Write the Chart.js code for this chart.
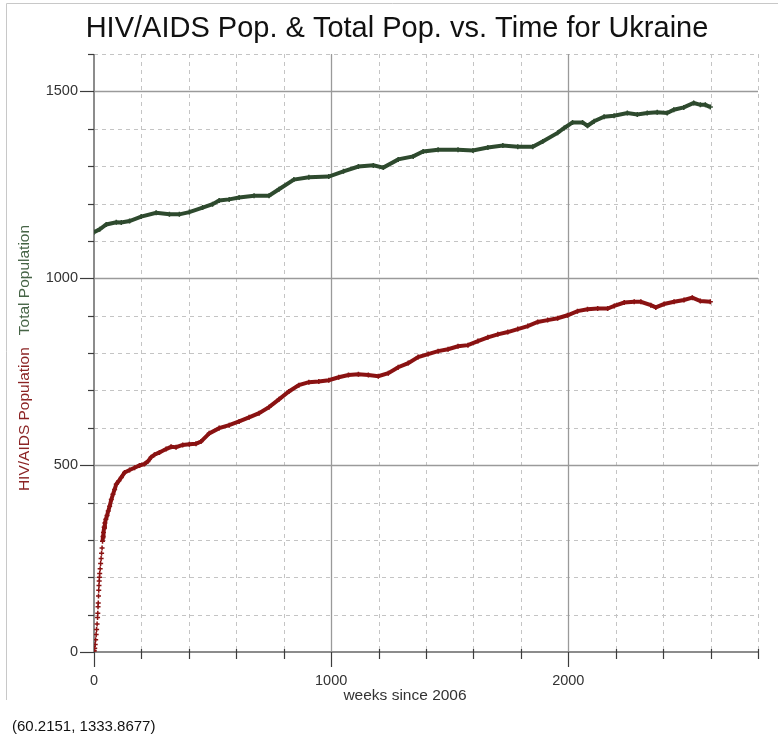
<!DOCTYPE html>
<html>
<head>
<meta charset="utf-8">
<script src="https://cdn.jsdelivr.net/npm/chart.js@4.4.1/dist/chart.umd.min.js"></script>
<style>
html,body{margin:0;padding:0;background:#fff;}
#wrap{position:relative;width:778px;height:740px;}
</style>
</head>
<body>
<div id="wrap"><canvas id="c" width="778" height="740"></canvas></div>
<script>
// ---- text ----
const chartTitle = 'HIV/AIDS Pop. & Total Pop. vs. Time for Ukraine';
const xAxisTitle = 'weeks since 2006';
const hivLabel = 'HIV/AIDS Population';
const totalLabel = 'Total Population';
const cursorText = '(60.2151, 1333.8677)';

// ---- tick labels ----
const xTickLabels = [0, 1000, 2000];
const yTickLabels = [0, 500, 1000, 1500];

// ---- HIV/AIDS population (weeks, people) ----
const hivWeeks = [0, 1, 3, 5, 7, 9, 11, 13, 15, 16, 17, 18, 19, 20, 21, 22, 23, 24, 26, 28, 30, 32, 34, 36, 38, 40, 43, 46,
  50, 55, 60, 66, 73, 80, 87, 94, 105, 115, 129, 150, 171, 192, 213, 227, 241, 255, 276, 304, 325, 346, 374, 402, 430, 451,
  486, 528, 570, 612, 654, 696, 738, 780, 822, 864, 906, 948, 990, 1032, 1073, 1115, 1157, 1199, 1241, 1283, 1325, 1367,
  1409, 1451, 1493, 1535, 1577, 1619, 1661, 1703, 1745, 1787, 1829, 1871, 1913, 1955, 1997, 2039, 2081, 2124, 2166, 2194,
  2236, 2278, 2306, 2348, 2369, 2404, 2446, 2488, 2523, 2557, 2599];
const hivValues = [0, 4, 10, 20, 33, 47, 60, 75, 92, 104, 121, 131, 150, 165, 178, 190, 200, 210, 223, 237, 250, 264, 278, 296,
  309, 320, 334, 345, 355, 365, 377, 390, 408, 422, 435, 449, 458, 467, 480, 487, 493, 499, 503, 510, 521, 528, 534, 543, 549,
  548, 554, 556, 557, 563, 585, 599, 607, 617, 628, 639, 655, 676, 697, 714, 722, 724, 727, 735, 741, 743, 741, 738, 746, 762,
  773, 789, 797, 805, 810, 818, 821, 832, 842, 850, 856, 864, 872, 883, 888, 893, 901, 912, 917, 919, 919, 926,
  935, 937, 937, 928, 922, 931, 937, 942, 948, 939, 937];

// ---- Total population (weeks, people) ----
const totalWeeks = [0, 24, 52, 94, 115, 150, 199, 262, 318, 360, 402, 458, 500, 528, 570, 612, 675, 738, 780, 843, 906, 990,
  1052, 1115, 1178, 1220, 1283, 1346, 1388, 1451, 1535, 1598, 1661, 1724, 1787, 1850, 1892, 1955, 1983, 2018, 2060, 2081,
  2109, 2151, 2193, 2249, 2291, 2333, 2375, 2417, 2445, 2487, 2529, 2557, 2578, 2599];
const totalValues = [1123, 1131, 1144, 1150, 1149, 1153, 1165, 1175, 1171, 1171, 1177, 1189, 1198, 1208, 1211, 1216, 1221,
  1221, 1238, 1264, 1270, 1272, 1286, 1299, 1302, 1296, 1318, 1326, 1339, 1344, 1344, 1342, 1350, 1355, 1352, 1352, 1366,
  1389, 1402, 1417, 1417, 1408, 1420, 1432, 1435, 1442, 1438, 1442, 1444, 1442, 1451, 1457, 1469, 1464, 1464, 1458];

const FONT = '"Liberation Sans", Arial, sans-serif';
const RED = '#8a1212';
const GREEN = '#2e4a2e';

const toPoints = (xs, ys) => xs.map((x, i) => ({x, y: ys[i]}));

const gridPlugin = {
  id: 'customGrid',
  beforeDatasetsDraw(chart) {
    const {ctx, chartArea: a, scales: {x, y}} = chart;
    const x0 = x.getPixelForValue(0), y0 = y.getPixelForValue(0);
    ctx.save();
    // minor dashed grid
    ctx.strokeStyle = '#c4c4c4';
    ctx.lineWidth = 1;
    ctx.setLineDash([4, 4]);
    x.ticks.forEach(t => {
      if (t.value % 1000 === 0) return;
      const p = Math.round(x.getPixelForValue(t.value)) + 0.5;
      ctx.beginPath(); ctx.moveTo(p, a.top); ctx.lineTo(p, a.bottom); ctx.stroke();
    });
    y.ticks.forEach(t => {
      if (t.value % 500 === 0) return;
      const p = Math.round(y.getPixelForValue(t.value)) + 0.5;
      ctx.beginPath(); ctx.moveTo(a.left, p); ctx.lineTo(a.right, p); ctx.stroke();
    });
    ctx.setLineDash([]);
    // major solid grid
    ctx.strokeStyle = '#9a9a9a';
    ctx.lineWidth = 1.3;
    x.ticks.forEach(t => {
      if (t.value % 1000 !== 0 || t.value === 0) return;
      const p = Math.round(x.getPixelForValue(t.value)) + 0.5;
      ctx.beginPath(); ctx.moveTo(p, a.top); ctx.lineTo(p, a.bottom); ctx.stroke();
    });
    y.ticks.forEach(t => {
      if (t.value % 500 !== 0 || t.value === 0) return;
      const p = Math.round(y.getPixelForValue(t.value)) + 0.5;
      ctx.beginPath(); ctx.moveTo(a.left, p); ctx.lineTo(a.right, p); ctx.stroke();
    });
    // axis lines
    ctx.strokeStyle = '#8c8c8c';
    ctx.lineWidth = 2;
    ctx.beginPath(); ctx.moveTo(x0, a.top); ctx.lineTo(x0, y0 + 1); ctx.stroke();
    ctx.beginPath(); ctx.moveTo(x0 - 1, y0); ctx.lineTo(a.right, y0); ctx.stroke();
    // tick marks
    ctx.strokeStyle = '#3c3c3c';
    ctx.lineWidth = 1.2;
    y.ticks.forEach(t => {
      const p = Math.round(y.getPixelForValue(t.value)) + 0.5;
      const len = t.value % 500 === 0 ? 14 : 6;
      ctx.beginPath(); ctx.moveTo(x0 - len, p); ctx.lineTo(x0, p); ctx.stroke();
    });
    x.ticks.forEach(t => {
      const p = Math.round(x.getPixelForValue(t.value)) + 0.5;
      const major = t.value % 1000 === 0;
      ctx.beginPath();
      ctx.moveTo(p, major ? y0 : y0 - 3);
      ctx.lineTo(p, major ? y0 + 15 : y0 + 7);
      ctx.stroke();
    });
    ctx.restore();
  }
};

const textPlugin = {
  id: 'texts',
  beforeDraw(chart) {
    const {ctx} = chart;
    ctx.save();
    ctx.strokeStyle = '#c8c8c8';
    ctx.lineWidth = 1;
    ctx.beginPath();
    ctx.moveTo(6.5, 700); ctx.lineTo(6.5, 3.5); ctx.lineTo(chart.width, 3.5);
    ctx.stroke();
    ctx.restore();
  },
  afterDraw(chart) {
    const {ctx, chartArea: a} = chart;
    ctx.save();
    // title
    ctx.fillStyle = '#111';
    ctx.font = '29px ' + FONT;
    ctx.textAlign = 'center';
    ctx.textBaseline = 'middle';
    ctx.fillText(chartTitle, 397, 29);
    // x axis title
    ctx.fillStyle = '#333';
    ctx.font = '15.5px ' + FONT;
    ctx.fillText(xAxisTitle, 405, a.bottom + 44);
    // cursor readout
    ctx.fillStyle = '#111';
    ctx.font = '15px ' + FONT;
    ctx.textAlign = 'left';
    ctx.fillText(cursorText, 12, 727);
    // rotated y titles
    ctx.font = '15.5px ' + FONT;
    const wH = ctx.measureText(hivLabel).width;
    const wT = ctx.measureText(totalLabel).width;
    const gap = 12;
    const total = wH + gap + wT;
    const cy = (a.top + a.bottom) / 2 + 5;
    ctx.translate(25, cy);
    ctx.rotate(-Math.PI / 2);
    ctx.textAlign = 'left';
    ctx.fillStyle = '#8b2323';
    ctx.fillText(hivLabel, -total / 2, 0);
    ctx.fillStyle = '#466446';
    ctx.fillText(totalLabel, -total / 2 + wH + gap, 0);
    ctx.restore();
  }
};

new Chart(document.getElementById('c'), {
  type: 'line',
  data: {
    datasets: [
      {
        label: totalLabel,
        data: toPoints(totalWeeks, totalValues),
        borderColor: GREEN,
        backgroundColor: GREEN,
        borderWidth: 4,
        pointStyle: 'cross',
        pointRadius: 2.5,
        pointBorderWidth: 1.5,
        tension: 0,
        fill: false
      },
      {
        label: hivLabel,
        data: toPoints(hivWeeks, hivValues),
        borderColor: RED,
        backgroundColor: RED,
        borderWidth: 4,
        pointStyle: 'cross',
        pointRadius: 2.5,
        pointBorderWidth: 1.5,
        tension: 0,
        fill: false,
        segment: {
          borderColor: c => c.p0.parsed.x < 36 ? 'rgba(0,0,0,0)' : RED
        }
      }
    ]
  },
  options: {
    responsive: false,
    animation: false,
    devicePixelRatio: 1,
    layout: {padding: {top: 54, left: 0, right: 17, bottom: 0}},
    plugins: {
      legend: {display: false},
      tooltip: {enabled: false},
      title: {display: false}
    },
    scales: {
      x: {
        type: 'linear',
        min: 0,
        max: 2800,
        afterFit: s => { s.height = 88; },
        grid: {display: false, drawTicks: false},
        border: {display: false},
        ticks: {
          stepSize: 200,
          autoSkip: false,
          maxRotation: 0,
          padding: 20,
          color: '#333',
          font: {family: FONT, size: 14.5},
          callback: v => xTickLabels.includes(v) ? String(v) : ''
        }
      },
      y: {
        type: 'linear',
        min: 0,
        max: 1600,
        afterFit: s => { s.width = 94; },
        grid: {display: false, drawTicks: false},
        border: {display: false},
        ticks: {
          stepSize: 100,
          autoSkip: false,
          padding: 16,
          color: '#333',
          font: {family: FONT, size: 14.5},
          callback: v => yTickLabels.includes(v) ? String(v) : ''
        }
      }
    }
  },
  plugins: [gridPlugin, textPlugin]
});
</script>
</body>
</html>
